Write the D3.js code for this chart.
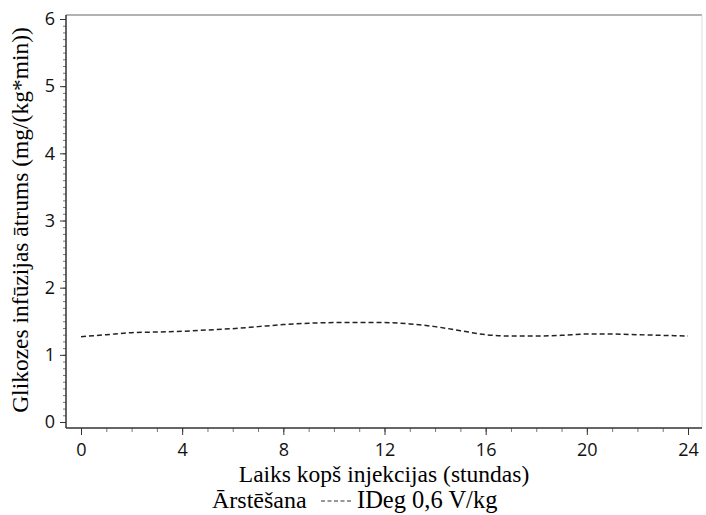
<!DOCTYPE html>
<html lang="lv">
<head>
<meta charset="utf-8">
<script src="https://cdn.jsdelivr.net/npm/d3@7"></script>
<style>
  body { margin: 0; background: #fff; }
  .tick text { font-family: "Open Sans", "Noto Sans", sans-serif; }
</style>
</head>
<body>
<div id="chart"></div>
<script>
// hours after injection, glucose infusion rate
const hours = d3.range(0, 25);
const gir = [1.27, 1.30, 1.33, 1.34, 1.35, 1.37, 1.39, 1.42, 1.45, 1.47, 1.48, 1.48, 1.48,
             1.46, 1.42, 1.36, 1.30, 1.28, 1.28, 1.29, 1.31, 1.31, 1.30, 1.29, 1.28];
const xTicks = [0, 4, 8, 12, 16, 20, 24];
const yTicks = [0, 1, 2, 3, 4, 5, 6];
const legendTitle = '\u0100rst\u0113\u0161ana';
const seriesName = 'IDeg 0,6 V/kg';

const W = 706, H = 515;
const frame = {left: 66, top: 15, right: 702, bottom: 428};

const svg = d3.select('#chart').append('svg')
  .attr('width', W)
  .attr('height', H);

const x = d3.scaleLinear().domain([0, 24]).range([81, 688]);
const y = d3.scaleLinear().domain([0, 6]).range([422, 19]);

// frame (top / right light)
svg.append('line')
  .attr('x1', frame.left).attr('x2', frame.right)
  .attr('y1', frame.top).attr('y2', frame.top)
  .attr('stroke', '#999').attr('stroke-width', 1.5);
svg.append('line')
  .attr('x1', frame.right).attr('x2', frame.right)
  .attr('y1', frame.top).attr('y2', frame.bottom)
  .attr('stroke', '#ddd').attr('stroke-width', 1);

// minor ticks
svg.append('g')
  .attr('transform', `translate(0,${frame.bottom})`)
  .call(d3.axisBottom(x).tickValues(hours).tickSize(4).tickFormat(''))
  .call(g => g.select('.domain').remove())
  .selectAll('line').attr('stroke', '#777');
svg.append('g')
  .attr('transform', `translate(${frame.left},0)`)
  .call(d3.axisLeft(y).tickValues(d3.range(0, 60).map(d => d / 10)).tickSize(3).tickFormat(''))
  .call(g => g.select('.domain').remove())
  .selectAll('line').attr('stroke', '#777');

// major ticks
const xAxis = svg.append('g')
  .attr('transform', `translate(0,${frame.bottom})`)
  .call(d3.axisBottom(x).tickValues(xTicks).tickSize(7).tickPadding(8).tickFormat(d3.format('d')));
xAxis.select('.domain').remove();
xAxis.selectAll('line').attr('stroke', '#333');
xAxis.selectAll('text').attr('font-size', 18).attr('fill', '#111');

const yAxis = svg.append('g')
  .attr('transform', `translate(${frame.left},0)`)
  .call(d3.axisLeft(y).tickValues(yTicks).tickSize(6).tickPadding(5).tickFormat(d3.format('d')));
yAxis.select('.domain').remove();
yAxis.selectAll('line').attr('stroke', '#333');
yAxis.selectAll('text').attr('font-size', 18).attr('fill', '#111');

// axis lines
svg.append('line')
  .attr('x1', frame.left).attr('x2', frame.right)
  .attr('y1', frame.bottom).attr('y2', frame.bottom)
  .attr('stroke', '#333').attr('stroke-width', 1.5);
svg.append('line')
  .attr('x1', frame.left).attr('x2', frame.left)
  .attr('y1', frame.top).attr('y2', frame.bottom)
  .attr('stroke', '#333').attr('stroke-width', 1.5);

// data line
const line = d3.line()
  .x((d, i) => x(hours[i]))
  .y(d => y(d))
  .curve(d3.curveMonotoneX);

svg.append('path')
  .datum(gir)
  .attr('d', line)
  .attr('fill', 'none')
  .attr('stroke', '#222')
  .attr('stroke-width', 1.5)
  .attr('stroke-dasharray', '5,3');

// titles
const serif = "'Liberation Serif', 'DejaVu Serif', serif";
svg.append('text')
  .attr('x', 384).attr('y', 482)
  .attr('text-anchor', 'middle')
  .attr('font-family', serif).attr('font-size', 23.5)
  .text('Laiks kop\u0161 injekcijas (stundas)');

svg.append('text')
  .attr('transform', 'translate(28,220) rotate(-90)')
  .attr('text-anchor', 'middle')
  .attr('font-family', serif).attr('font-size', 23.5)
  .text('Glikozes inf\u016Bzijas \u0101trums (mg/(kg*min))');

// legend
const leg = svg.append('g');
leg.append('text')
  .attr('x', 212).attr('y', 508)
  .attr('font-family', serif).attr('font-size', 24)
  .text(legendTitle);
leg.append('line')
  .attr('x1', 321).attr('x2', 353)
  .attr('y1', 501).attr('y2', 501)
  .attr('stroke', '#333').attr('stroke-width', 1.2)
  .attr('stroke-dasharray', '4,2.5');
leg.append('text')
  .attr('x', 357).attr('y', 508)
  .attr('font-family', serif).attr('font-size', 24.5)
  .text(seriesName);
</script>
</body>
</html>
